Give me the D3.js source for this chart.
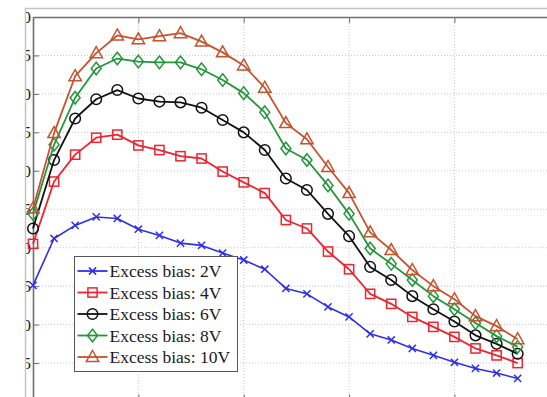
<!DOCTYPE html>
<html>
<head>
<meta charset="utf-8">
<script src="https://cdn.jsdelivr.net/npm/d3@7"></script>
<style>
  html, body { margin: 0; padding: 0; background: #fff; }
  svg { display: block; overflow: hidden; }
  .serif { font-family: "Liberation Serif", "Times New Roman", "DejaVu Serif", serif; }
</style>
</head>
<body>
<svg id="chart" width="547" height="397"></svg>
<script>
// Wavelength samples (nm) and photon detection efficiency (%) per excess bias
const wavelengths = [300, 320, 340, 360, 380, 400, 420, 440, 460, 480, 500, 520,
                     540, 560, 580, 600, 620, 640, 660, 680, 700, 720, 740, 760];
const pde2V  = [15.1, 21.2, 22.9, 24.0, 23.8, 22.4, 21.6, 20.6, 20.3, 19.3, 18.4, 17.2,
                14.7, 14.0, 12.3, 11.0, 8.8, 8.0, 6.9, 6.0, 5.1, 4.3, 3.7, 3.0];
const pde4V  = [20.5, 28.6, 32.1, 34.3, 34.7, 33.3, 32.7, 31.9, 31.6, 29.9, 28.5, 27.1,
                23.6, 22.5, 19.5, 17.2, 14.0, 12.7, 11.0, 9.7, 8.4, 6.9, 6.0, 5.0];
const pde6V  = [22.5, 31.4, 36.8, 39.3, 40.5, 39.4, 39.0, 38.9, 38.2, 36.6, 35.0, 32.7,
                29.0, 27.5, 24.4, 21.5, 17.5, 15.8, 13.7, 12.0, 10.4, 8.6, 7.5, 6.2];
const pde8V  = [24.4, 33.4, 39.5, 43.3, 44.6, 44.2, 44.1, 44.1, 43.2, 41.8, 40.1, 37.6,
                32.9, 31.4, 28.1, 24.4, 19.9, 17.9, 15.8, 13.7, 12.0, 10.2, 8.5, 7.1];
const pde10V = [25.1, 34.9, 42.3, 45.3, 47.6, 47.1, 47.5, 47.9, 46.8, 45.4, 43.7, 40.8,
                36.2, 34.1, 30.5, 27.1, 22.0, 19.7, 17.1, 15.0, 13.3, 11.1, 9.8, 8.1];
const seriesNames = ["Excess bias: 2V", "Excess bias: 4V", "Excess bias: 6V",
                     "Excess bias: 8V", "Excess bias: 10V"];
const yTicks = [5, 10, 15, 20, 25, 30, 35, 40, 45, 50];
const xTicks = [300, 400, 500, 600, 700, 800];

const series = [
  { name: seriesNames[0], values: pde2V,  color: "#2f2fe8", marker: "x" },
  { name: seriesNames[1], values: pde4V,  color: "#ec2530", marker: "square" },
  { name: seriesNames[2], values: pde6V,  color: "#111111", marker: "circle" },
  { name: seriesNames[3], values: pde8V,  color: "#23963a", marker: "diamond" },
  { name: seriesNames[4], values: pde10V, color: "#c4532e", marker: "triangle" }
];

const svg = d3.select("#chart");
const W = 547, H = 397;

// Plot box (extends past the visible frame on the right and bottom)
const boxLeft = 33, boxTop = 17, boxRight = 559.8, boxBottom = 401.5;
const x = d3.scaleLinear().domain([300, 800]).range([boxLeft, boxRight]);
const y = d3.scaleLinear().domain([0, 50]).range([boxBottom, boxTop]);

svg.append("rect").attr("width", W).attr("height", H).attr("fill", "#fff");

// Dotted grid
const grid = svg.append("g").attr("stroke", "#c8c8c8").attr("stroke-width", 1)
  .attr("stroke-dasharray", "1,2");
grid.selectAll("line.gx").data(xTicks.slice(1, -1)).join("line")
  .attr("x1", d => x(d)).attr("x2", d => x(d)).attr("y1", boxTop).attr("y2", boxBottom);
grid.selectAll("line.gy").data(yTicks.slice(0, -1)).join("line")
  .attr("y1", d => y(d)).attr("y2", d => y(d)).attr("x1", boxLeft).attr("x2", boxRight);

// Axes with inward ticks
const axisStyle = g => {
  g.select(".domain").attr("stroke", "#6e6e6e").attr("stroke-width", 1.6);
  g.selectAll(".tick line").attr("stroke", "#6e6e6e").attr("stroke-width", 1);
};
svg.append("g").attr("transform", `translate(${boxLeft},0)`)
  .call(d3.axisLeft(y).tickValues(yTicks).tickSize(-6).tickPadding(2).tickSizeOuter(0))
  .call(axisStyle)
  .call(g => g.selectAll("text").attr("class", "serif").attr("font-family", null)
    .attr("font-size", 17).attr("fill", "#222"));
svg.append("g").attr("transform", `translate(0,${boxTop})`)
  .call(d3.axisTop(x).tickValues(xTicks).tickSize(-6).tickFormat(() => "").tickSizeOuter(0))
  .call(axisStyle);
svg.append("g").attr("transform", `translate(0,${boxBottom})`)
  .call(d3.axisBottom(x).tickValues(xTicks).tickSize(-7).tickFormat(() => "").tickSizeOuter(0))
  .call(axisStyle);

// Series lines and markers
const line = d3.line().x((d, i) => x(wavelengths[i])).y(d => y(d));

function drawMarker(g, type, color) {
  const sw = 1.5;
  if (type === "x") {
    const s = 3.6;
    g.append("path").attr("d", `M${-s},${-s}L${s},${s}M${-s},${s}L${s},${-s}`)
      .attr("stroke", color).attr("stroke-width", sw).attr("fill", "none");
  } else if (type === "square") {
    g.append("rect").attr("x", -4.6).attr("y", -4.6).attr("width", 9.2).attr("height", 9.2)
      .attr("stroke", color).attr("stroke-width", sw).attr("fill", "none");
  } else if (type === "circle") {
    g.append("circle").attr("r", 5.3)
      .attr("stroke", color).attr("stroke-width", sw).attr("fill", "none");
  } else if (type === "diamond") {
    g.append("path").attr("d", "M0,-6.3L5,0L0,6.3L-5,0Z")
      .attr("stroke", color).attr("stroke-width", sw).attr("fill", "none");
  } else if (type === "triangle") {
    g.append("path").attr("d", "M0,-6.5L6.2,4.5L-6.2,4.5Z")
      .attr("stroke", color).attr("stroke-width", sw).attr("fill", "none");
  }
}

series.forEach(s => {
  svg.append("path").datum(s.values).attr("d", line)
    .attr("fill", "none").attr("stroke", s.color)
    .attr("stroke-width", s.marker === "x" ? 1.6 : 1.8).attr("stroke-linejoin", "round");
  s.values.forEach((v, i) => {
    const g = svg.append("g").attr("transform", `translate(${x(wavelengths[i])},${y(v)})`);
    drawMarker(g, s.marker, s.color);
  });
});

// Legend
const lg = svg.append("g").attr("transform", "translate(74.5,256.5)");
lg.append("rect").attr("width", 163).attr("height", 115)
  .attr("fill", "#fff").attr("stroke", "#555").attr("stroke-width", 1);
series.forEach((s, i) => {
  const cy = 14.5 + i * 21.5;
  const row = lg.append("g").attr("transform", `translate(0,${cy})`);
  row.append("line").attr("x1", 3).attr("x2", 33).attr("y1", 0).attr("y2", 0)
    .attr("stroke", s.color).attr("stroke-width", 1.8);
  drawMarker(row.append("g").attr("transform", "translate(18,0)"), s.marker, s.color);
  row.append("text").attr("class", "serif").attr("x", 35).attr("y", 6)
    .attr("font-size", 17.5).attr("fill", "#1a1a1a").text(s.name);
});

// Outer frame: white margin on the left and top with a thin light border
svg.append("rect").attr("x", 0).attr("y", 0).attr("width", 25).attr("height", H).attr("fill", "#fff");
svg.append("rect").attr("x", 0).attr("y", 0).attr("width", W).attr("height", 8).attr("fill", "#fff");
svg.append("line").attr("x1", 25.5).attr("x2", 25.5).attr("y1", 8).attr("y2", H)
  .attr("stroke", "#c4c4c4").attr("stroke-width", 1.5);
svg.append("line").attr("x1", 25).attr("x2", W).attr("y1", 8.5).attr("y2", 8.5)
  .attr("stroke", "#c4c4c4").attr("stroke-width", 1.5);
</script>
</body>
</html>
